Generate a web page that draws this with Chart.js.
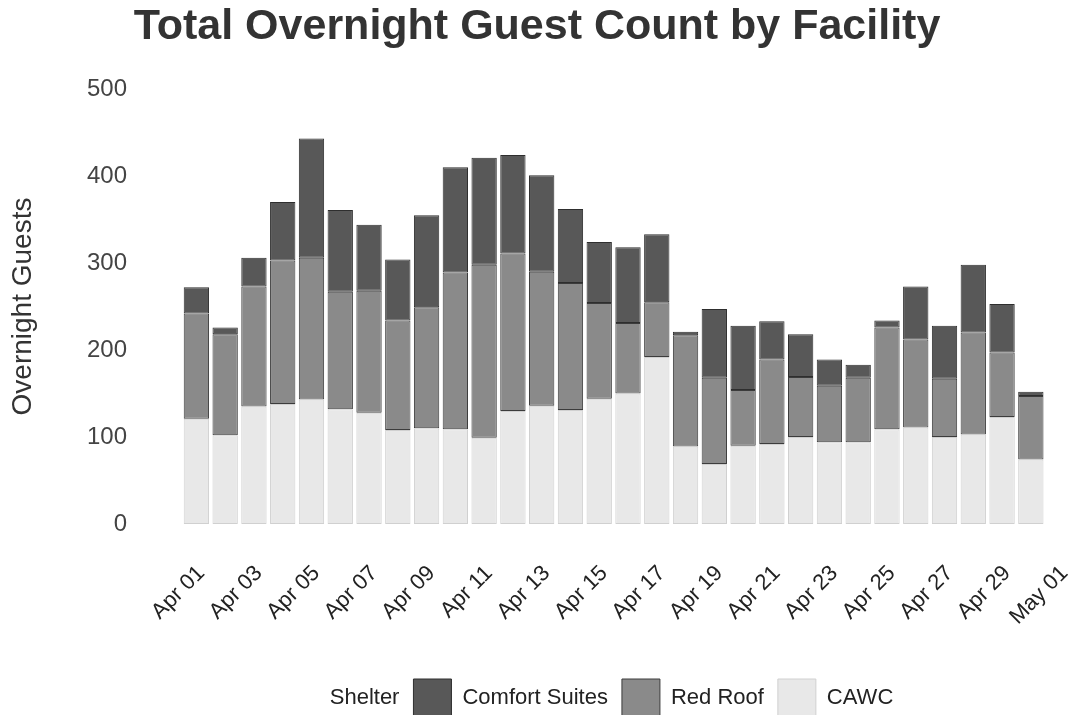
<!DOCTYPE html>
<html>
<head>
<meta charset="utf-8">
<script src="https://cdn.jsdelivr.net/npm/chart.js@4/dist/chart.umd.min.js"></script>
<style>
  html, body { margin: 0; padding: 0; background: #fff; }
  #wrap { width: 1074px; height: 715px; position: relative; }
</style>
</head>
<body>
<div id="wrap"><canvas id="guests"></canvas></div>
<script>
const dates = ["Apr 01","Apr 02","Apr 03","Apr 04","Apr 05","Apr 06","Apr 07","Apr 08","Apr 09","Apr 10",
  "Apr 11","Apr 12","Apr 13","Apr 14","Apr 15","Apr 16","Apr 17","Apr 18","Apr 19","Apr 20",
  "Apr 21","Apr 22","Apr 23","Apr 24","Apr 25","Apr 26","Apr 27","Apr 28","Apr 29","Apr 30","May 01"];

// bottom -> top of each stack
const cawc = [121,102,135,138,143,132,128,108,110,109,99,130,136,131,144,150,192,89,69,90,92,100,94,94,109,111,100,103,123,74,null];
const redRoof = [121,116,138,165,163,135,140,126,139,180,199,181,154,146,110,81,63,128,99,64,97,69,65,74,117,101,67,117,74,73,null];
const comfortSuites = [30,8,33,67,137,94,76,70,106,121,123,113,111,85,70,87,78,4,79,74,44,49,30,15,8,61,61,78,56,5,null];

const yTicks = [0, 100, 200, 300, 400, 500];

const FONT = "'Liberation Sans', Arial, Helvetica, sans-serif";

// legend in the picture starts a bit right of centre
const legendShift = {
  id: "legendShift",
  afterLayout(chart) {
    const lg = chart.legend;
    if (!lg) return;
    lg.left += 50;
    lg.right += 50;
    lg.top += 12;
    lg.bottom += 12;
  }
};

const ctx = document.getElementById("guests").getContext("2d");
new Chart(ctx, {
  type: "bar",
  data: {
    labels: dates,
    datasets: [
      {
        label: "CAWC",
        data: cawc,
        backgroundColor: "#e8e8e8",
        borderColor: "#d0d0d0",
        borderWidth: 1,
        borderSkipped: false
      },
      {
        label: "Red Roof",
        data: redRoof,
        backgroundColor: "#8a8a8a",
        borderColor: "#3c3c3c",
        borderWidth: 1,
        borderSkipped: false
      },
      {
        label: "Comfort Suites",
        data: comfortSuites,
        backgroundColor: "#585858",
        borderColor: "#2e2e2e",
        borderWidth: 1,
        borderSkipped: false
      }
    ]
  },
  options: {
    responsive: true,
    maintainAspectRatio: false,
    animation: false,
    layout: { padding: 0 },
    datasets: {
      bar: { categoryPercentage: 1.0, barPercentage: 0.88 }
    },
    plugins: {
      title: {
        display: true,
        text: "Total Overnight Guest Count by Facility",
        color: "#333",
        font: { family: FONT, size: 43, weight: "bold" },
        padding: { top: 1, bottom: 36.4 }
      },
      legend: {
        position: "bottom",
        onClick: null,
        labels: {
          color: "#222",
          font: { family: FONT, size: 22 },
          boxWidth: 38,
          boxHeight: 38,
          padding: 14,
          generateLabels(chart) {
            const items = Chart.defaults.plugins.legend.labels.generateLabels(chart).reverse();
            items.unshift({
              text: "Shelter",
              fillStyle: "rgba(0,0,0,0)",
              strokeStyle: "rgba(0,0,0,0)",
              lineWidth: 0,
              hidden: false,
              datasetIndex: -1,
              fontColor: "#222"
            });
            return items;
          }
        }
      },
      tooltip: { enabled: false }
    },
    scales: {
      x: {
        stacked: true,
        offset: true,
        grid: { display: false, drawTicks: false },
        border: { display: false },
        ticks: {
          autoSkip: false,
          minRotation: 45,
          maxRotation: 45,
          padding: 45,
          labelOffset: 5,
          color: "#222",
          font: { family: FONT, size: 22, lineHeight: 0.1 },
          callback(value, index) {
            return index % 2 === 0 ? dates[index] : "";
          }
        },
        afterFit(scale) {
          scale.height = 129;
          scale.paddingLeft = 0;
          scale.paddingRight = 0;
        }
      },
      y: {
        stacked: true,
        min: 0,
        max: 500,
        grid: { display: false, drawTicks: false },
        border: { display: false },
        ticks: {
          stepSize: 100,
          padding: 55,
          color: "#444",
          font: { family: FONT, size: 24 },
          callback(value) { return yTicks.includes(value) ? value : ""; }
        },
        title: {
          display: true,
          text: "Overnight Guests",
          color: "#333",
          font: { family: FONT, size: 28 },
          padding: { top: 6, bottom: 0 }
        },
        afterFit(scale) { scale.width = 182; }
      }
    }
  },
  plugins: [legendShift]
});
</script>
</body>
</html>
